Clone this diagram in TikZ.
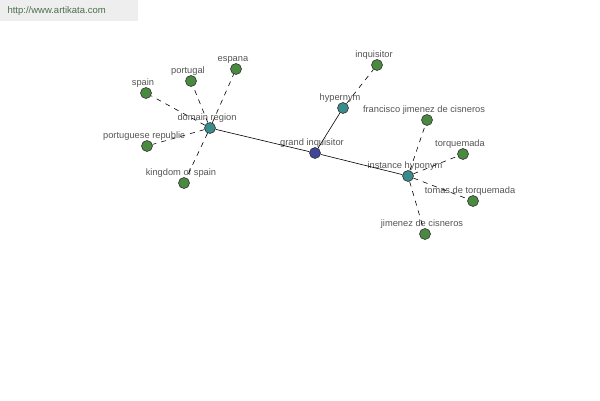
\documentclass[tikz,border=0pt]{standalone}
\usepackage{fontspec}
\setmainfont{Liberation Sans}
\usepackage{tikz}
\usetikzlibrary{arrows.meta}

\definecolor{termblue}{HTML}{3F4599}
\definecolor{relteal}{HTML}{3A8C8C}
\definecolor{leafgreen}{HTML}{4A8A40}
\definecolor{labelgray}{HTML}{555555}
\definecolor{markgray}{HTML}{EEEEEE}
\definecolor{markgreen}{HTML}{4C6E4C}

\tikzset{
    dot/.style={circle, draw=black!80, line width=0.6pt, minimum size=11pt, inner sep=0pt,
        label={[text=labelgray, font=\fontsize{9.3}{11}\selectfont, label distance=-3.5pt, xshift=-3pt]above:#1}},
    term/.style={dot=#1, fill=termblue},
    rel/.style={dot=#1, fill=relteal},
    leaf/.style={dot=#1, fill=leafgreen},
    link/.style={draw=black, line width=0.6pt},
    sublink/.style={link, dash pattern=on 5pt off 5pt}
}

\begin{document}
\begin{tikzpicture}[x=1pt, y=-1pt]
        \useasboundingbox[fill=white] (0,0) rectangle (600,400);

        % Site mark.
        \fill[markgray] (0,0) rectangle (138,21);
        \node[anchor=west, text=markgreen, font=\fontsize{9.5}{11}\selectfont] (site) at (4,11) {http://www.artikata.com};

        % Term and relations.
        \node[term=grand inquisitor] (gi) at (315,153) {};
        \node[rel=domain region] (dr) at (210,128) {};
        \node[rel=hypernym] (hy) at (343,108) {};
        \node[rel=instance hyponym] (ih) at (408,176) {};

        % Domain region.
        \node[leaf=spain] (spain) at (146,93) {};
        \node[leaf=portugal] (portugal) at (191,81) {};
        \node[leaf=espana] (espana) at (236,69) {};
        \node[leaf=portuguese republic] (pr) at (147,146) {};
        \node[leaf=kingdom of spain] (ks) at (184,183) {};

        % Hypernym.
        \node[leaf=inquisitor] (inq) at (377,65) {};

        % Instance hyponym.
        \node[leaf=francisco jimenez de cisneros] (fjc) at (427,120) {};
        \node[leaf=torquemada] (tq) at (463,154) {};
        \node[leaf=tomas de torquemada] (ttq) at (473,201) {};
        \node[leaf=jimenez de cisneros] (jc) at (425,234) {};

        % Links.
        \foreach \n in {dr, hy, ih}
            \draw[link] (gi) -- (\n);
        \foreach \n in {spain, portugal, espana, pr, ks}
            \draw[sublink] (dr) -- (\n);
        \draw[sublink] (hy) -- (inq);
        \foreach \n in {fjc, tq, ttq, jc}
            \draw[sublink] (ih) -- (\n);
    \end{tikzpicture}
\end{document}
